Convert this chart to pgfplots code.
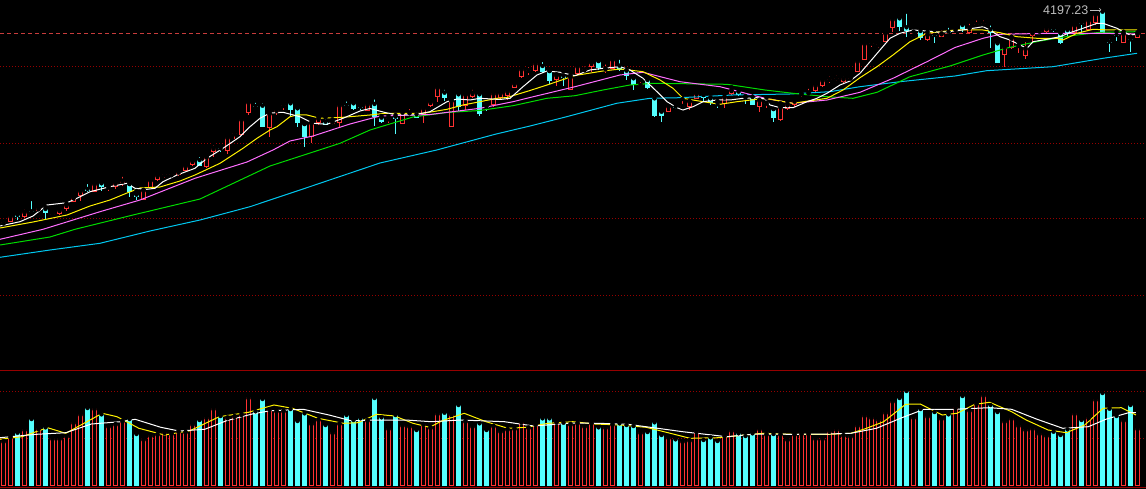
\documentclass[border=0pt]{standalone}
\usepackage{fontspec}
\setmainfont{Liberation Sans}
\usepackage{pgfplots}
\usepackage{pgfplotstable}
\pgfplotsset{compat=1.18}
\definecolor{kred}{RGB}{255,50,50}
\definecolor{kcyan}{RGB}{84,255,255}
\definecolor{mpink}{RGB}{255,110,255}
\definecolor{mgreen}{RGB}{0,220,0}
\definecolor{mcyan}{RGB}{0,200,240}
\definecolor{gridred}{RGB}{150,0,0}
\definecolor{dashred}{RGB}{200,60,60}
\definecolor{lblgrey}{RGB}{190,190,190}

% price candles in screen units (top = close for up days)
\pgfplotstableread{
i t b h l
0 222.5 222.5 221 225
1 216 221.7 215 222.3
3 211.7 217 207.3 217.7
5 208.3 210.7 205.7 210.7
7 214 214 212 216.7
8 210 214 209.3 215.3
9 204.7 209 203.3 210.7
10 197.3 201.7 197 202
11 190.7 196 188.3 201
13 183.7 191.7 182.7 192.3
15 186.7 186.7 183.7 191
16 182.7 186.7 181.7 189.3
17 180.7 183.3 174.7 185.7
20 190 200 190 200
21 180 188.3 180 188.3
22 175.3 180.3 174.7 181
23 174.3 174.3 171.7 178.3
24 174.3 174.3 171.7 177.7
25 171.7 175 169 175.7
26 165.7 170.7 165 171
27 160.7 165 160 166
29 156.7 167.3 156 168
30 148 151.7 143.3 156.7
32 137.3 151 136.7 154
33 133.3 133.3 130 138.7
34 119.3 135 119 135
35 102 112.7 102 115
38 113.3 128.3 113 137.3
39 110 113.3 107.7 115
40 105 105 102.7 110
44 122.7 137.3 122 143.3
45 118.3 123.3 116.7 125
47 121.7 124 119.3 125.3
48 105 123.3 104 126.7
52 104 110.7 102 111.3
55 118.3 118.3 116 123.3
57 111.7 124.3 111.7 124.3
58 112.3 112.3 107 115
60 108.3 115 108 123.3
61 101.7 105.7 101 106.7
62 87.3 97.3 87 101.7
64 100.3 126.7 100 126.7
66 94.3 105.7 94 110
67 92.7 96.7 87.7 97.7
70 93.3 105 91.7 106.7
71 92.7 97.7 91.7 100
72 91 95.7 88.3 100
73 83.3 88.3 83 88.3
74 69 76.7 67.7 78.3
75 70 70 65 75
76 63.3 70.7 61.7 71.7
79 75 80 74.3 85.7
81 76.7 90 75 90
82 66 74.3 65 75
83 69.3 69.3 64.3 71
84 62.3 66.7 62.3 71.7
86 68.3 68.3 62.3 73.3
87 59.3 69 59.3 69
91 85 85 80 88.3
95 106 111.7 106 112
97 106 106 99 109
98 101 106.7 101 110
99 93.3 99.3 93.3 99.3
103 96.7 104.3 94.3 108.3
104 90 94.3 87.3 95
108 100 106.7 100 111.7
109 102.7 102.7 97.7 107.7
111 106.7 120 103.3 121
112 104.3 109 101.7 110
113 100.7 105 97.7 106.7
114 93.3 93.3 91 96.7
115 92.3 92.3 86.7 95
116 85 91 83.3 91.7
117 80 85.7 77.7 86.7
118 79 79 74.3 83.3
119 77.7 77.7 73.3 81
120 78.3 82.3 74.3 83.3
121 77.7 77.7 75 81
122 61 71.7 60 72
123 43.3 60 43.3 60
124 42.7 42.7 39.3 46.7
125 44.3 44.3 40.7 48.3
126 32.7 41.7 32.7 41.7
127 19 28.3 18.3 32.3
130 35.7 35.7 31.7 38.3
132 34.3 40 31.7 41
134 33.3 36.7 28.3 36.7
136 29 29 26 31.7
138 27.3 33.3 21.7 34
139 24 24 18.3 27.3
140 23.3 23.3 18.3 26.7
143 46.7 55 43.3 66.7
144 37.7 48.3 36.7 49.3
145 45 45 41.7 53.3
146 48.3 55.7 40 59
147 32.3 36 31.7 41.7
148 30.7 30.7 27.7 33.3
149 28.3 31.7 26 33.3
153 25 33.3 25 33.3
155 20 30 19.3 30.7
156 14 22.7 14 25
160 33.3 42.7 31.7 43.3
162 33.3 38.3 32.3 38.3
}\upc

\pgfplotstableread{
i t b h l
2 215 217 211 220
4 211.3 212.3 199 212.3
6 209 213.3 207 220
12 189 191 182 191.7
14 183.3 186.7 182.3 190.7
18 184 192.3 184 196.7
19 194.7 196.7 191 200
28 160 166 155 166
31 148.3 148.3 146 151.7
36 106 106 100.7 108.3
37 105.7 126.7 101 126.7
41 103.3 110 102 116.7
42 108.3 122.7 108 126.7
43 124 136.7 124 146.7
46 121.7 125 117.3 125
49 105 105 99.3 107.3
50 103.3 109 103 110
51 106.7 106.7 103.3 110
53 104 116.7 97.3 126
54 117.7 121.7 116 123
56 116.7 119 115 134
59 114.3 117.7 110 118.3
63 92.7 98.3 87.7 100.7
65 94.3 106.7 91.7 111
68 94.3 114.3 91 115.7
69 106.7 106.7 103.3 110.7
77 66 72.3 60 73.3
78 71 81 71 84.3
80 76 78.3 71.7 85.7
85 61 67.7 61 70
88 65.7 70 57.7 71
89 70.7 75.7 70 80
90 78.3 85 77.7 90
92 80 88.3 77.7 89.3
93 98.3 116 94.3 116.7
94 111.7 115.7 111 121.7
96 106.7 106.7 103.3 109
100 95 97.7 95 101.7
101 98.3 103.3 97.3 105
102 104.3 104.3 101 108.3
105 91.7 95 89.3 95.7
106 97.7 97.7 96 104
107 96.7 105 96.7 105
110 109 118.3 109 121.7
128 18.3 26.7 15 30.7
129 27.3 31 11.7 36.7
131 31 37.7 27.7 40
133 35 35 30 43.3
135 31.7 31.7 25.7 34.3
137 25 29.3 21.7 31.7
141 29.3 33.3 23.3 48.3
142 43.3 63.3 41.7 63.3
150 29 29 26.7 31.7
151 33.3 43.3 31.7 44
152 30 33.3 28.3 36.7
154 22.7 24.3 22.7 32.7
157 11.7 33.3 8 33.3
158 41.7 41.7 37.3 51.7
159 35 35 31.7 40.7
161 39.3 39.3 36.7 51.7
}\dnc

% volume bar tops in screen units
\pgfplotstableread{
i v
0 441
1 436.7
3 429.3
5 428.3
7 438.3
8 438.3
9 436
10 422.3
11 414
13 408.3
15 426
16 424
17 420.7
20 439
21 435.3
22 434
23 432
24 433.3
25 431
26 431.7
27 424
29 417.3
30 408.3
32 417.3
33 416
34 414
35 397.3
38 409
39 410.7
40 410.7
44 423.3
45 419.3
47 432.3
48 423.3
52 420
55 428.3
57 425
58 426
60 424
61 427.3
62 413.3
64 414
66 421
67 426
70 425.7
71 431
72 429
73 428.3
74 421.7
75 427.3
76 424
79 421.7
81 424
82 422.7
83 426
84 422.7
86 427.3
87 424
91 432.3
95 437.3
97 441
98 440
99 431.3
103 435.3
104 430.3
108 428.7
109 434
111 434
112 439.3
113 434
114 433.3
115 433.3
116 438.3
117 438.3
118 430.7
119 429.3
120 435
121 436
122 425.3
123 415.3
124 417.3
125 419.3
126 412.3
127 401
130 417.3
132 416
134 418.3
136 407.3
138 410
139 403.3
140 395
143 421
144 418.3
145 425.3
146 429.3
147 428.3
148 433.3
149 435.3
153 413.3
155 417.3
156 399.3
160 420
162 428.3
}\volup

\pgfplotstableread{
i v
2 432.7
4 419
6 427.3
12 408
14 414.3
18 419
19 434
28 420
31 416
36 411.3
37 399
41 409
42 421
43 413.3
46 425
49 415
50 420
51 418.3
53 398
54 417.3
56 415
59 430
63 412.7
65 405
68 423.3
69 430
77 418.3
78 418.3
80 422.7
85 427.3
88 423.3
89 425
90 426
92 432
93 422.3
94 435
96 439.3
100 440
101 437.3
102 441
105 433.3
106 436
107 433.3
110 434
128 398
129 391
131 409
133 412
135 414.3
137 396
141 405
142 412
150 431.7
151 435
152 429.3
154 420
157 393
158 408.7
159 416
161 405
}\voldn

\begin{document}
\begin{tikzpicture}
\begin{axis}[
  width=1146pt, height=489pt, scale only axis,
  xmin=0, xmax=1146, ymin=0, ymax=489, y dir=reverse,
  axis line style={draw=none},
  xtick=\empty, ytick=\empty,
  axis background/.style={fill=black},
  clip=true,
  every axis plot/.append style={line cap=butt},
]
% reference lines
\addplot[gridred, line width=1pt, dash pattern=on 1pt off 2pt] coordinates {(0,66.5) (1146,66.5)};
\addplot[gridred, line width=1pt, dash pattern=on 1pt off 2pt] coordinates {(0,143.5) (1146,143.5)};
\addplot[gridred, line width=1pt, dash pattern=on 1pt off 2pt] coordinates {(0,218.5) (1146,218.5)};
\addplot[gridred, line width=1pt, dash pattern=on 1pt off 2pt] coordinates {(0,295.5) (1146,295.5)};
\addplot[gridred, line width=1pt, dash pattern=on 1pt off 2pt] coordinates {(0,391.5) (1146,391.5)};
\addplot[gridred, line width=1pt, dash pattern=on 1pt off 2pt] coordinates {(0,438.5) (1146,438.5)};
\addplot[dashred, line width=1pt, dash pattern=on 4pt off 3pt] coordinates {(0,33.5) (1146,33.5)};
\addplot[gridred, line width=1.2pt] coordinates {(0,370.5) (1146,370.5)};

% wicks
\addplot[only marks, mark=none, error bars/.cd, y dir=plus, y explicit, error mark=none,
  error bar style={line width=1pt, kred}]
  table[x expr=3.5+7*\thisrow{i}, y=h, y error plus expr=\thisrow{l}-\thisrow{h}] {\upc};
\addplot[only marks, mark=none, error bars/.cd, y dir=plus, y explicit, error mark=none,
  error bar style={line width=1pt, kcyan}]
  table[x expr=3.5+7*\thisrow{i}, y=h, y error plus expr=\thisrow{l}-\thisrow{h}] {\dnc};
% bodies
\addplot[only marks, mark=none, error bars/.cd, y dir=plus, y explicit, error mark=none,
  error bar style={line width=5pt, kred}]
  table[x expr=3.5+7*\thisrow{i}, y=t, y error plus expr={max(\thisrow{b}-\thisrow{t},1)}] {\upc};
\addplot[only marks, mark=none, error bars/.cd, y dir=plus, y explicit, error mark=none,
  error bar style={line width=3pt, black}]
  table[x expr=3.5+7*\thisrow{i}, y expr=\thisrow{t}+1, y error plus expr={max(\thisrow{b}-\thisrow{t}-2,0)}] {\upc};
\addplot[only marks, mark=none, error bars/.cd, y dir=plus, y explicit, error mark=none,
  error bar style={line width=5pt, kcyan}]
  table[x expr=3.5+7*\thisrow{i}, y=t, y error plus expr={max(\thisrow{b}-\thisrow{t},1)}] {\dnc};

% volume bars
\addplot[only marks, mark=none, error bars/.cd, y dir=plus, y explicit, error mark=none,
  error bar style={line width=5pt, kred}]
  table[x expr=3.5+7*\thisrow{i}, y=v, y error plus expr=486-\thisrow{v}] {\volup};
\addplot[only marks, mark=none, error bars/.cd, y dir=plus, y explicit, error mark=none,
  error bar style={line width=3pt, black}]
  table[x expr=3.5+7*\thisrow{i}, y expr=\thisrow{v}+1, y error plus expr=484-\thisrow{v}] {\volup};
\addplot[only marks, mark=none, error bars/.cd, y dir=plus, y explicit, error mark=none,
  error bar style={line width=5pt, kcyan}]
  table[x expr=3.5+7*\thisrow{i}, y=v, y error plus expr=486-\thisrow{v}] {\voldn};
\addplot[gridred, line width=1.5pt] coordinates {(0,487.5) (1146,487.5)};

% moving averages (price)
\addplot[mcyan, line width=1pt] coordinates {(0,257.3)(50,250)(100,243.3)(150,231)(200,220)(250,206.7)(300,190)(380,163)(436.7,150)(495,134.3)(530,126)(566.7,116.7)(616.7,103.3)(650,98.3)(680,97.7)(733,95)(790,94)(830,91.7)(860,86.7)(900,81.7)(955,76)(986.7,70.7)(1053,66.7)(1103,58.3)(1137,53.3)};
\addplot[mgreen, line width=1pt] coordinates {(0,245)(50,237)(75,229.3)(133,215)(200,199)(270,166)(307,154)(340,143.3)(370,130)(413,117)(447,112.5)(480,110.5)(513,105.7)(547,98.3)(575,95.7)(603,90)(630,85)(653,83.3)(727,84.3)(765,90)(793,93.3)(827,96.7)(853,98.3)(877,92.3)(910,76.7)(950,66)(983,55)(1007,48)(1040,41)(1073,35.5)(1100,32.3)(1137,31.7)};
\addplot[mpink, line width=1pt] coordinates {(0,239.3)(43,229.3)(100,211.7)(140,200)(195,178.3)(247,162)(273,150)(290,141)(313,136)(350,124)(380,116)(430,114.5)(480,108.3)(513,101.7)(530,97.5)(575,86.7)(620,75)(643,72.3)(680,81.7)(720,86.7)(765,98.3)(793,103.3)(827,100)(860,92.3)(893,78.3)(927,61.7)(955,47.5)(983,38.3)(1000,34.3)(1050,33.3)(1100,33.3)(1137,34)};
\addplot[yellow, line width=1pt] coordinates {(0,228)(33,222)(67,215)(90,206)(110,200)(127,193)(140,188)(160,187)(180,181)(195,175)(220,163.3)(243,148.3)(257,138.3)(270,130)(277,126.7)(290,116.7)(297,115)(307,115)(320,118.3)(343,117.3)(370,115)(385,113.3)(397,113.3)(423,113.3)(447,109.3)(463,105)(480,101.7)(497,98.3)(507,97.5)(530,90.5)(547,85)(575,75.5)(603,71)(620,69)(643,71.7)(660,80)(673,88.3)(683,98.3)(703,101.7)(720,104.3)(737,101.7)(765,98.3)(793,103.3)(827,98.3)(843,90)(860,77.7)(877,66.7)(893,55)(910,41.7)(927,33.3)(955,30)(983,30)(1000,32.7)(1017,36.7)(1037,38.3)(1057,38.3)(1063,40)(1077,33.3)(1093,29.3)(1110,30)(1137,30)};
\addplot[white, line width=1pt] coordinates {(0,226)(20,221.7)(33,216)(47,205)(67,202.7)(77,198.3)(90,191.7)(110,186.7)(127,183.3)(135,188.3)(147,189.3)(155,188.3)(163,181.7)(177,175)(195,168.3)(207,158.3)(223,148.3)(240,136.7)(250,126.7)(260,118.3)(270,113)(283,112.3)(300,116.7)(313,123.3)(327,124.3)(343,118.3)(360,111)(370,108.5)(385,112.5)(397,115)(413,115)(430,111.7)(447,101.7)(457,99)(470,100)(480,98.3)(500,99.5)(510,98.3)(523,86.7)(537,75)(547,71)(560,72.3)(575,75.7)(590,70)(603,68.3)(620,66.7)(630,70)(643,78.3)(657,91.7)(667,101.7)(677,107.7)(683,110)(693,106.7)(703,101.7)(717,100)(730,100)(743,98.3)(757,97.7)(765,99)(770,105)(780,107.7)(793,107.7)(807,101.7)(817,98.3)(827,93.3)(840,85)(850,81)(860,73.3)(870,61.7)(880,50)(890,38.3)(900,33.3)(913,30)(927,31)(940,32.3)(955,31)(967,29.3)(983,26.7)(990,30)(1000,36.7)(1010,40)(1020,45)(1027,48.3)(1033,41.7)(1047,39.3)(1060,36.7)(1070,32.7)(1083,28.3)(1097,23.3)(1103,23.3)(1117,28.3)(1130,35)(1137,34.3)};

% moving averages (volume)
\addplot[yellow, line width=1pt] coordinates {(0,439.3)(21.9,436.7)(47.5,427.7)(65.8,433.3)(84,423.3)(102.3,413.3)(117,416.7)(138.9,428.3)(164.5,435)(190,430.7)(219.3,416.7)(248.5,412.3)(274,405)(292.4,408.3)(318,418.3)(343.6,423.3)(358.2,422.7)(376.5,414.3)(394.7,416)(413,423.3)(429.5,427.3)(442.3,420.7)(464.2,413.3)(486,421.7)(508,428.3)(526.3,427.3)(548.2,423.3)(573,421.7)(594.9,424)(620.5,425)(646.1,427.3)(668,432.7)(690,438.3)(719.2,437.7)(744.8,435)(763,433.3)(792.3,434.3)(828.8,434.3)(850.8,433.3)(865.4,428.7)(883.7,421.7)(905.6,404.3)(920.2,404)(942.2,415)(956.8,413.3)(975,404.3)(989.7,402.3)(1011.6,411.7)(1026.2,420)(1048.1,430)(1066.4,432.7)(1084.7,425)(1103,408.3)(1121.3,407.7)(1135.9,415)};
\addplot[white, line width=1pt] coordinates {(0,437.7)(36.5,434.3)(65.8,432.7)(91.4,424)(120.6,421.7)(135.2,419.3)(160.8,427.3)(179.1,431)(204.7,429.3)(226.6,420.7)(252.2,414)(270.5,410.7)(303.4,409.3)(329,415)(350.9,420.7)(380,420)(405.7,420)(431.3,421.7)(460.5,420)(504.4,421.7)(533.6,426)(573,423)(598.6,423.3)(627.8,424.3)(653.4,427.7)(682.6,431.7)(711.9,435)(726.5,436.7)(755.7,434)(792.3,434.3)(828.8,434)(850.8,433.3)(876.4,428.3)(901.9,417.7)(923.9,409.3)(953.1,409.3)(989.7,407.7)(1011.6,409.3)(1037.2,419.3)(1062.8,428.3)(1088.3,426.7)(1106.6,419)(1128.6,412.7)(1135.9,412.7)};

% high-price annotation
\node[anchor=west, text=lblgrey, inner sep=0pt, font=\fontsize{12.5}{13}\selectfont] at (axis cs:1043,9.7) {4197.23};
\draw[lblgrey, line width=0.8pt, -stealth] (axis cs:1090,10) -- (axis cs:1103,10);
\end{axis}
\end{tikzpicture}
\end{document}
